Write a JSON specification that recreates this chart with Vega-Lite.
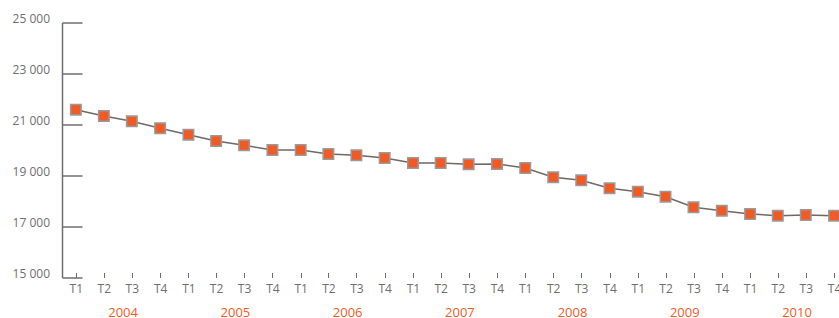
{
  "$schema": "https://vega.github.io/schema/vega-lite/v6.json",
  "width": 777,
  "height": 255,
  "autosize": {"type": "none"},
  "padding": {"left": 62, "top": 22.5, "right": 0, "bottom": 40.5},
  "config": {"view": {"stroke": null}, "font": "Open Sans"},
  "data": {"values": [
    {"date": "2004-01-01", "value": 21580},
    {"date": "2004-04-01", "value": 21333},
    {"date": "2004-07-01", "value": 21125},
    {"date": "2004-10-01", "value": 20851},
    {"date": "2005-01-01", "value": 20600},
    {"date": "2005-04-01", "value": 20353},
    {"date": "2005-07-01", "value": 20184},
    {"date": "2005-10-01", "value": 20000},
    {"date": "2006-01-01", "value": 20000},
    {"date": "2006-04-01", "value": 19843},
    {"date": "2006-07-01", "value": 19792},
    {"date": "2006-10-01", "value": 19686},
    {"date": "2007-01-01", "value": 19490},
    {"date": "2007-04-01", "value": 19490},
    {"date": "2007-07-01", "value": 19439},
    {"date": "2007-10-01", "value": 19451},
    {"date": "2008-01-01", "value": 19294},
    {"date": "2008-04-01", "value": 18929},
    {"date": "2008-07-01", "value": 18812},
    {"date": "2008-10-01", "value": 18498},
    {"date": "2009-01-01", "value": 18365},
    {"date": "2009-04-01", "value": 18169},
    {"date": "2009-07-01", "value": 17753},
    {"date": "2009-10-01", "value": 17620},
    {"date": "2010-01-01", "value": 17490},
    {"date": "2010-04-01", "value": 17424},
    {"date": "2010-07-01", "value": 17451},
    {"date": "2010-10-01", "value": 17424}
  ]},
  "encoding": {
    "x": {
      "field": "date",
      "type": "temporal",
      "scale": {
        "type": "utc",
        "domain": [
          {"year": 2003, "month": 11, "date": 17, "utc": true},
          {"year": 2010, "month": 10, "date": 17, "utc": true}
        ]
      },
      "axis": {
        "title": null,
        "domain": false,
        "grid": false,
        "tickSize": -5,
        "tickWidth": 1,
        "tickColor": "#6d6e71",
        "tickOpacity": {"condition": {"test": "utcmonth(datum.value) % 3 != 0", "value": 0}, "value": 1},
        "labelFont": "Open Sans",
        "labelFontSize": {"condition": {"test": "utcmonth(datum.value) % 3 != 0", "value": 13}, "value": 12},
        "labelColor": {"condition": {"test": "utcmonth(datum.value) % 3 != 0", "value": "#f15a24"}, "value": "#6d6e71"},
        "labelPadding": {"condition": {"test": "utcmonth(datum.value) % 3 != 0", "value": 34}, "value": 11},
        "labelBaseline": "top",
        "labelOverlap": false,
        "labelFlush": false,
        "labelBound": false,
        "labelExpr": "utcmonth(datum.value) % 3 == 0 ? 'T' + (floor(utcmonth(datum.value) / 3) + 1) : '' + utcyear(datum.value)",
        "values": [
          {"year": 2004, "month": 1, "date": 1, "utc": true},
          {"year": 2004, "month": 4, "date": 1, "utc": true},
          {"year": 2004, "month": 7, "date": 1, "utc": true},
          {"year": 2004, "month": 10, "date": 1, "utc": true},
          {"year": 2005, "month": 1, "date": 1, "utc": true},
          {"year": 2005, "month": 4, "date": 1, "utc": true},
          {"year": 2005, "month": 7, "date": 1, "utc": true},
          {"year": 2005, "month": 10, "date": 1, "utc": true},
          {"year": 2006, "month": 1, "date": 1, "utc": true},
          {"year": 2006, "month": 4, "date": 1, "utc": true},
          {"year": 2006, "month": 7, "date": 1, "utc": true},
          {"year": 2006, "month": 10, "date": 1, "utc": true},
          {"year": 2007, "month": 1, "date": 1, "utc": true},
          {"year": 2007, "month": 4, "date": 1, "utc": true},
          {"year": 2007, "month": 7, "date": 1, "utc": true},
          {"year": 2007, "month": 10, "date": 1, "utc": true},
          {"year": 2008, "month": 1, "date": 1, "utc": true},
          {"year": 2008, "month": 4, "date": 1, "utc": true},
          {"year": 2008, "month": 7, "date": 1, "utc": true},
          {"year": 2008, "month": 10, "date": 1, "utc": true},
          {"year": 2009, "month": 1, "date": 1, "utc": true},
          {"year": 2009, "month": 4, "date": 1, "utc": true},
          {"year": 2009, "month": 7, "date": 1, "utc": true},
          {"year": 2009, "month": 10, "date": 1, "utc": true},
          {"year": 2010, "month": 1, "date": 1, "utc": true},
          {"year": 2010, "month": 4, "date": 1, "utc": true},
          {"year": 2010, "month": 7, "date": 1, "utc": true},
          {"year": 2010, "month": 10, "date": 1, "utc": true},
          {"year": 2004, "month": 6, "date": 1, "utc": true},
          {"year": 2005, "month": 6, "date": 1, "utc": true},
          {"year": 2006, "month": 6, "date": 1, "utc": true},
          {"year": 2007, "month": 6, "date": 1, "utc": true},
          {"year": 2008, "month": 6, "date": 1, "utc": true},
          {"year": 2009, "month": 6, "date": 1, "utc": true},
          {"year": 2010, "month": 6, "date": 1, "utc": true}
        ]
      }
    },
    "y": {
      "field": "value",
      "type": "quantitative",
      "scale": {"domain": [15000, 25000], "nice": false, "zero": false},
      "axis": {
        "title": null,
        "grid": false,
        "values": [15000, 17000, 19000, 21000, 23000, 25000],
        "domainColor": "#6d6e71",
        "domainWidth": 1.5,
        "tickColor": "#6d6e71",
        "tickWidth": 1.5,
        "tickSize": -20,
        "labelFont": "Open Sans",
        "labelFontSize": 12,
        "labelColor": "#6d6e71",
        "labelBaseline": "alphabetic",
        "labelPadding": 32.5,
        "labelExpr": "replace(format(datum.value, ','), ',', ' ')"
      }
    }
  },
  "layer": [
    {"mark": {"type": "line", "color": "#6f6864", "strokeWidth": 1.5}},
    {"mark": {"type": "point", "shape": "square", "filled": true, "fill": "#f15a24", "stroke": "#9a9a9a", "strokeWidth": 1.5, "size": 110, "opacity": 1}}
  ]
}
